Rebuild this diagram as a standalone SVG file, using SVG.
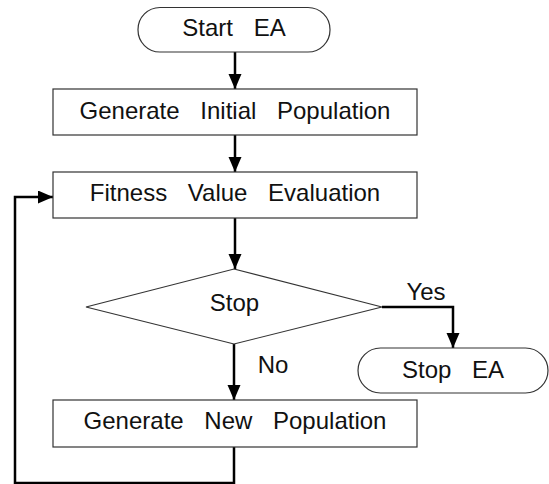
<svg xmlns="http://www.w3.org/2000/svg" width="549" height="484" viewBox="0 0 549 484">
<style>
.shape{fill:#fff;stroke:#333;stroke-width:1.2}
.lbl{font-family:"Liberation Sans",Arial,sans-serif;font-size:24px;fill:#111;text-anchor:middle;word-spacing:14px}
.conn{fill:none;stroke:#000;stroke-width:2.5}
</style>
<defs>
<marker id="arr" markerUnits="userSpaceOnUse" markerWidth="16" markerHeight="14" refX="15" refY="6.5" orient="auto">
<path d="M0,0 L15,6.5 L0,13 Z" fill="#000"/>
</marker>
</defs>
<rect width="549" height="484" fill="#fff"/>
<g id="connectors">
<path class="conn" d="M235,52 V89" marker-end="url(#arr)"/>
<path class="conn" d="M235,135 V172" marker-end="url(#arr)"/>
<path class="conn" d="M235,218 V269" marker-end="url(#arr)"/>
<path class="conn" d="M234,344 V400" marker-end="url(#arr)"/>
<path class="conn" d="M382,307 H453 V348" marker-end="url(#arr)"/>
<path class="conn" d="M234,447 V483 H15 V197 H53" marker-end="url(#arr)"/>
<text class="lbl" x="426" y="300">Yes</text>
<text class="lbl" x="273" y="373">No</text>
</g>
<g id="start">
<rect class="shape" x="138" y="7.5" width="192" height="44.5" rx="22" ry="22"/>
<text class="lbl" x="234" y="36">Start EA</text>
</g>
<g id="init">
<rect class="shape" x="53" y="89" width="364" height="46"/>
<text class="lbl" x="235" y="119">Generate Initial Population</text>
</g>
<g id="fitness">
<rect class="shape" x="53" y="172" width="364" height="46"/>
<text class="lbl" x="235" y="201">Fitness Value Evaluation</text>
</g>
<g id="decision">
<polygon class="shape" points="234,269 382,307 234,344 86,307"/>
<text class="lbl" x="234.5" y="311">Stop</text>
</g>
<g id="stop">
<rect class="shape" x="358" y="348" width="190" height="45" rx="22.5" ry="22.5"/>
<text class="lbl" x="453" y="378">Stop EA</text>
</g>
<g id="newpop">
<rect class="shape" x="53" y="400" width="364" height="47"/>
<text class="lbl" x="235" y="429">Generate New Population</text>
</g>
</svg>
